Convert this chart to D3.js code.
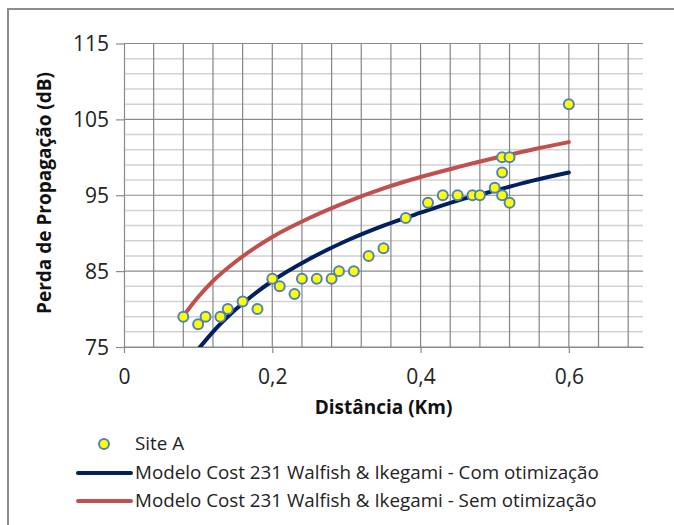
<!DOCTYPE html>
<html>
<head>
<meta charset="utf-8">
<script src="https://cdn.jsdelivr.net/npm/d3@7"></script>
<style>
  body { margin: 0; background: #fff; }
  svg { display: block; font-family: "Open Sans", sans-serif; }
</style>
</head>
<body>
<svg id="chart" width="674" height="525"></svg>
<script>
// measured points, Site A
var siteDist = [0.08, 0.10, 0.11, 0.13, 0.14, 0.16, 0.18, 0.20, 0.21, 0.23, 0.24, 0.26, 0.28, 0.29, 0.31, 0.33, 0.35,
  0.38, 0.41, 0.43, 0.45, 0.47, 0.48, 0.50, 0.51, 0.52, 0.51, 0.51, 0.52, 0.60];
var siteLoss = [79, 78, 79, 79, 80, 81, 80, 84, 83, 82, 84, 84, 84, 85, 85, 87, 88,
  92, 94, 95, 95, 95, 95, 96, 100, 100, 98, 95, 94, 107];

// model curves
var comDist = [0.10, 0.12, 0.15, 0.20, 0.25, 0.30, 0.35, 0.40, 0.45, 0.50, 0.55, 0.60];
var comLoss = [74.7, 77.0, 79.9, 83.7, 86.6, 89.0, 91.0, 92.7, 94.3, 95.6, 96.9, 98.0];
var semDist = [0.08, 0.10, 0.12, 0.15, 0.20, 0.25, 0.30, 0.35, 0.40, 0.45, 0.50, 0.55, 0.60];
var semLoss = [79.1, 81.6, 83.7, 86.2, 89.5, 92.0, 94.1, 95.9, 97.4, 98.7, 99.9, 101.0, 102.0];

var xTicks = [0, 0.2, 0.4, 0.6];
var yTicks = [75, 85, 95, 105, 115];
var legendLabels = ["Site A", "Modelo Cost 231 Walfish & Ikegami - Com otimização", "Modelo Cost 231 Walfish & Ikegami - Sem otimização"];

var svg = d3.select("#chart");
var pL = 124, pR = 643, pT = 43.5, pB = 347;

var x = d3.scaleLinear().domain([0, 0.7]).range([pL, pR]);
var y = d3.scaleLinear().domain([75, 115]).range([pB, pT]);

// outer frame (cut by the picture edge)
svg.append("rect")
  .attr("x", 8).attr("y", 9).attr("width", 700).attr("height", 560)
  .attr("fill", "none").attr("stroke", "#8c8c8c").attr("stroke-width", 2);

// grid
var g = svg.append("g");
g.selectAll(".hmin").data(d3.range(75, 115.1, 2))
  .enter().append("line")
    .attr("x1", pL).attr("x2", pR)
    .attr("y1", function(d){ return y(d) }).attr("y2", function(d){ return y(d) })
    .attr("stroke", function(d){ return (d - 75) % 10 == 0 ? "#8a8a8a" : "#d2d2d2" })
    .attr("stroke-width", function(d){ return (d - 75) % 10 == 0 ? 1.2 : 1.5 });
g.selectAll(".vmin").data(d3.range(0.04, 0.7, 0.04))
  .enter().append("line")
    .attr("x1", function(d){ return x(d) }).attr("x2", function(d){ return x(d) })
    .attr("y1", pT).attr("y2", pB)
    .attr("stroke", "#858585").attr("stroke-width", 1.2);

// axes
var yAxis = d3.axisLeft(y).tickValues(yTicks).tickSize(8).tickSizeOuter(0);
var xAxis = d3.axisBottom(x).tickValues(xTicks).tickSize(6).tickSizeOuter(0)
  .tickFormat(function(d){ return d == 0 ? "0" : d3.format(".1f")(d).replace(".", ",") });

var ya = svg.append("g").attr("transform", "translate(" + pL + ",0)").call(yAxis);
var xa = svg.append("g").attr("transform", "translate(0," + pB + ")").call(xAxis);
[ya, xa].forEach(function(a){
  a.select(".domain").attr("stroke", "#8a8a8a").attr("stroke-width", 1.2);
  a.selectAll(".tick line").attr("stroke", "#8a8a8a").attr("stroke-width", 1.2);
  a.selectAll("text").attr("fill", "#222").style("font-size", "21px").style("font-family", "Open Sans");
});
ya.selectAll("text").attr("x", -15).attr("dy", "0.34em");
xa.selectAll("text").attr("y", 30).attr("dy", "0.34em");

// axis titles
svg.append("text")
  .attr("x", x(0.35)).attr("y", 408)
  .attr("text-anchor", "middle").attr("dy", "0.34em")
  .style("font-size", "19px").style("font-weight", "bold").attr("fill", "#111")
  .text("Distância (Km)");
svg.append("text")
  .attr("transform", "translate(45,193) rotate(-90)")
  .attr("text-anchor", "middle").attr("dy", "0.34em")
  .style("font-size", "19px").style("font-weight", "bold").attr("fill", "#111")
  .text("Perda de Propagação (dB)");

// lines
svg.append("clipPath").attr("id", "plot")
  .append("rect").attr("x", pL).attr("y", pT).attr("width", pR - pL).attr("height", pB - pT);

var line = d3.line()
  .x(function(d){ return x(d[0]) })
  .y(function(d){ return y(d[1]) })
  .curve(d3.curveMonotoneX);

svg.append("path")
  .datum(d3.zip(semDist, semLoss))
  .attr("d", line)
  .attr("clip-path", "url(#plot)")
  .attr("fill", "none").attr("stroke", "#c0504d").attr("stroke-width", 4).attr("stroke-linecap", "round");
svg.append("path")
  .datum(d3.zip(comDist, comLoss))
  .attr("d", line)
  .attr("clip-path", "url(#plot)")
  .attr("fill", "none").attr("stroke", "#002060").attr("stroke-width", 4).attr("stroke-linecap", "round");

// points
svg.selectAll(".pt").data(d3.zip(siteDist, siteLoss))
  .enter().append("circle")
    .attr("cx", function(d){ return x(d[0]) })
    .attr("cy", function(d){ return y(d[1]) })
    .attr("r", 5)
    .attr("fill", "#ffff00").attr("stroke", "#4f81bd").attr("stroke-width", 2);

// legend
var leg = svg.append("g");
var legY = [444, 473, 501];
leg.append("circle").attr("cx", 104).attr("cy", legY[0]).attr("r", 5)
  .attr("fill", "#ffff00").attr("stroke", "#4f81bd").attr("stroke-width", 2);
leg.append("line").attr("x1", 78).attr("x2", 131).attr("y1", legY[1]).attr("y2", legY[1])
  .attr("stroke", "#002060").attr("stroke-width", 4).attr("stroke-linecap", "round");
leg.append("line").attr("x1", 78).attr("x2", 131).attr("y1", legY[2]).attr("y2", legY[2])
  .attr("stroke", "#c0504d").attr("stroke-width", 4).attr("stroke-linecap", "round");
leg.selectAll(".lt").data(legendLabels)
  .enter().append("text")
    .attr("x", 135)
    .attr("y", function(d, i){ return legY[i] })
    .attr("dy", "0.34em")
    .style("font-size", "18.8px").attr("fill", "#222")
    .text(function(d){ return d });
</script>
</body>
</html>
